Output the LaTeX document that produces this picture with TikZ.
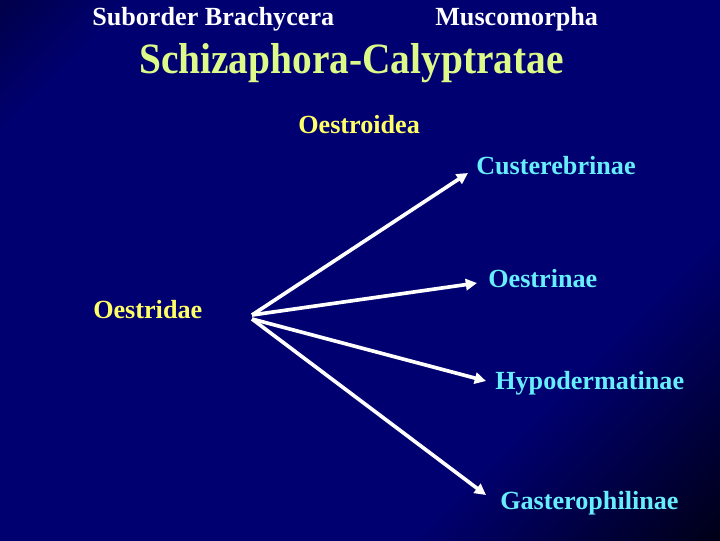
\documentclass[tikz,border=0pt]{standalone}
\usepackage{fontspec}
\setmainfont{Liberation Serif}
\usetikzlibrary{arrows.meta}

\definecolor{slidenavy}{RGB}{0,0,112}
\definecolor{titlegreen}{RGB}{221,250,136}
\definecolor{superyellow}{RGB}{255,255,102}
\definecolor{subcyan}{RGB}{102,238,255}
\pgfdeclarehorizontalshading{slidebg}{100bp}{color(0bp)=(black); color(22bp)=(slidenavy); color(68bp)=(slidenavy); color(90bp)=(black); color(100bp)=(black)}

\begin{document}
\begin{tikzpicture}[x=0.025cm,y=-0.025cm,
    every node/.style={font=\fontsize{18.6}{22}\selectfont\bfseries, inner sep=0pt, anchor=base west},
    toptext/.style={text=white},
    supertext/.style={text=superyellow},
    subtext/.style={text=subcyan},
    branch/.style={draw=white, line width=2.6pt, -{Triangle[length=8pt,width=8pt]}}]
      \shade[shading=slidebg, shading angle=-45] (0,0) rectangle (720,540);
      \useasboundingbox (0,0) rectangle (720,540);
      % headings
      \draw (92,25)   node[toptext] (suborder) {Suborder Brachycera};
      \draw (435,25)  node[toptext] (musco) {Muscomorpha};
      \draw (139,73)  node[text=titlegreen, font=\fontsize{28}{32}\selectfont\bfseries] (schiz) {\scalebox{1}[1.1]{Schizaphora-Calyptratae}};
      \draw (298,133) node[supertext] (oestroidea) {Oestroidea};
      % family and subfamilies
      \draw (93,318)  node[supertext] (oestridae) {Oestridae};
      \draw (476,174) node[subtext] (cust) {Custerebrinae};
      \draw (488,287) node[subtext] (oestrinae) {Oestrinae};
      \draw (495,389) node[subtext] (hypo) {Hypodermatinae};
      \draw (500,509) node[subtext] (gast) {Gasterophilinae};
      \coordinate (fork) at (252,315);
      \coordinate (forklow) at (252,319);
      \draw[branch] (fork) -- ([shift={(-8,-1)}]cust.base west);
      \draw[branch] (fork) -- ([shift={(-11,-4)}]oestrinae.base west);
      \draw[branch] (forklow) -- ([shift={(-9,-8)}]hypo.base west);
      \draw[branch] (forklow) -- ([shift={(-14,-14)}]gast.base west);
    \end{tikzpicture}
\end{document}
